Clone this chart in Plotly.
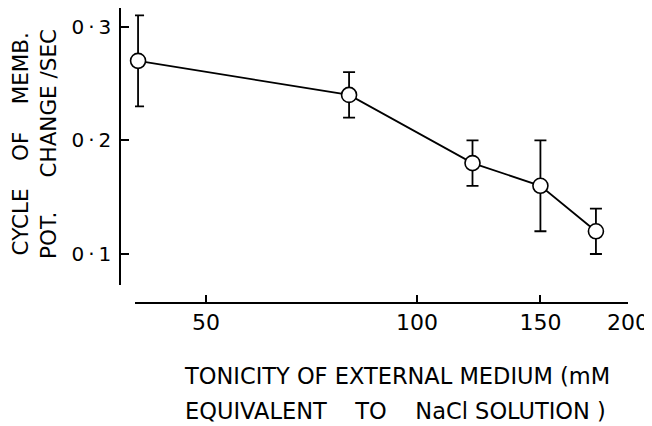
import plotly.graph_objects as go
import math

# Data
tonicity_mM = [40, 80, 120, 150, 180]
cycle_per_sec = [0.27, 0.24, 0.18, 0.16, 0.12]
error_sec = [0.04, 0.02, 0.02, 0.04, 0.02]

x_tick_vals = [50, 100, 150, 200]
x_tick_text = ["50", "100", "150", "200"]
y_tick_vals = [0.1, 0.2, 0.3]
y_tick_text = ["0\u2009·\u20091", "0\u2009·\u20092", "0\u2009·\u20093"]

FONT = "DejaVu Sans"
NB = "\u00a0"

# The page body has an 8px default margin; design coordinates are page pixels.
OFF = 8
W, H = 652 - OFF, 426 - OFF
ML = 120 - OFF
MT = 8 - OFF
PAPER_RIGHT = 628 - OFF
PAPER_BOTTOM = 303 - OFF
MR = W - PAPER_RIGHT
MB = H - PAPER_BOTTOM
PW = W - ML - MR
PH = H - MT - MB


def px_x(px):
    return (px - OFF - ML) / PW


def px_y(py):
    return (PAPER_BOTTOM - (py - OFF)) / PH


fig = go.Figure()
fig.add_trace(go.Scatter(
    x=tonicity_mM, y=cycle_per_sec,
    mode="lines+markers",
    line=dict(color="black", width=1.8),
    marker=dict(symbol="circle", size=15, color="white",
                line=dict(color="black", width=1.6)),
    error_y=dict(type="data", array=error_sec, visible=True,
                 color="black", thickness=1.8, width=6),
    showlegend=False,
    cliponaxis=False,
))

fig.update_layout(
    width=W, height=H,
    margin=dict(l=ML, r=MR, t=MT, b=MB, pad=0),
    paper_bgcolor="white", plot_bgcolor="white",
    font=dict(family=FONT, color="black"),
    xaxis=dict(
        type="log",
        domain=[px_x(135), 1],
        range=[math.log10(39.6), math.log10(200)],
        anchor="free", position=0,
        showline=True, linecolor="black", linewidth=1.5,
        showgrid=False, zeroline=False,
        ticks="inside", ticklen=7, tickwidth=1.5, tickcolor="black",
        tickvals=x_tick_vals, ticktext=x_tick_text,
        tickfont=dict(size=22, family=FONT, color="black"),
        ticklabelstandoff=0,
    ),
    yaxis=dict(
        domain=[px_y(285), 1],
        range=[0.0727, 0.3165],
        anchor="free", position=0,
        showline=True, linecolor="black", linewidth=1.5,
        showgrid=False, zeroline=False,
        ticks="inside", ticklen=8, tickwidth=1.5, tickcolor="black",
        tickvals=y_tick_vals, ticktext=y_tick_text,
        tickfont=dict(size=20, family=FONT, color="black"),
        ticklabelstandoff=4,
    ),
)

ann_font_y = dict(size=21.5, family=FONT, color="black")
ann_font_x = dict(size=22.5, family=FONT, color="black")

fig.add_annotation(
    xref="paper", yref="paper", x=px_x(20), y=px_y(144.5),
    text=f"CYCLE{NB*4}OF{NB*4}MEMB.", textangle=-90, showarrow=False,
    xanchor="center", yanchor="middle", font=ann_font_y,
)
fig.add_annotation(
    xref="paper", yref="paper", x=px_x(49), y=px_y(144),
    text=f"POT.{NB*5}CHANGE /SEC", textangle=-90, showarrow=False,
    xanchor="center", yanchor="middle", font=ann_font_y,
)
fig.add_annotation(
    xref="paper", yref="paper", x=px_x(397), y=px_y(376),
    text="TONICITY OF EXTERNAL MEDIUM (mM", showarrow=False,
    xanchor="center", yanchor="middle", font=ann_font_x,
)
fig.add_annotation(
    xref="paper", yref="paper", x=px_x(395), y=px_y(411),
    text=f"EQUIVALENT{NB*4}TO{NB*4}NaCl SOLUTION )", showarrow=False,
    xanchor="center", yanchor="middle", font=ann_font_x,
)

fig.write_html("out.html")
